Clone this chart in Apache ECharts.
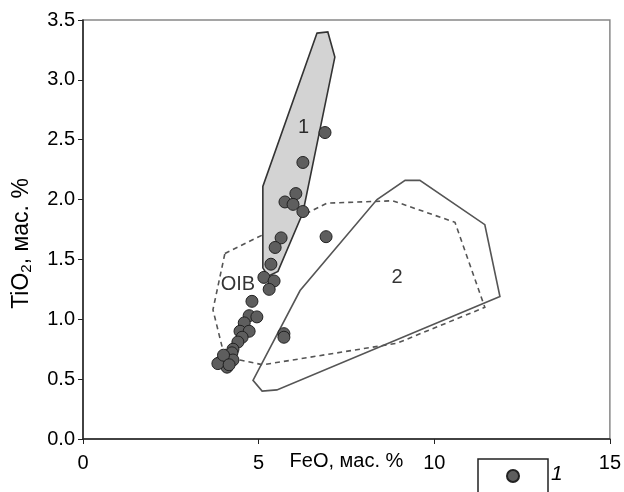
<!DOCTYPE html>
<html><head><meta charset="utf-8">
<script src="https://cdn.jsdelivr.net/npm/echarts@6/dist/echarts.min.js"></script>
<style>html,body{margin:0;padding:0;background:#fff}#c{width:624px;height:492px}</style>
</head><body><div id="c"></div>
<script>
// FeO (x), TiO2 (y) of samples (group 1)
const feo = [6.89,6.26,6.06,5.75,5.98,6.26,6.92,5.64,5.47,5.35,5.15,5.44,5.30,4.81,4.73,4.95,4.59,4.47,4.73,4.53,4.41,5.72,5.72,4.27,4.24,4.04,4.27,3.90,4.10,3.84,4.00,4.16];
const tio2 = [2.56,2.31,2.05,1.98,1.96,1.90,1.69,1.68,1.60,1.46,1.35,1.32,1.25,1.15,1.03,1.02,0.97,0.90,0.90,0.85,0.81,0.88,0.85,0.75,0.72,0.68,0.66,0.64,0.60,0.63,0.70,0.62];
// field 1 (grey)
const field1X = [6.66,6.97,7.17,6.26,5.55,5.27,5.12,5.12];
const field1Y = [3.39,3.40,3.19,1.89,1.40,1.36,1.43,2.11];
// field 2
const field2X = [9.17,9.59,11.44,11.87,5.52,5.10,4.84,6.18,8.37];
const field2Y = [2.16,2.16,1.79,1.19,0.41,0.40,0.49,1.24,2.00];
// OIB field (dashed)
const oibX = [4.04,6.95,8.82,10.59,11.44,8.94,5.12,4.47,3.96,3.70];
const oibY = [1.55,1.97,1.99,1.81,1.10,0.80,0.62,0.66,0.77,1.08];
// field labels
const fieldLabels = ['1','2','OIB'];
const fieldLabelX = [6.28,8.94,4.41];
const fieldLabelY = [2.60,1.35,1.29];
const xTicks = [0,5,10,15];
const seriesName = '1';

function zip(a,b){return a.map((v,i)=>[v,b[i]]);}
function polySeries(xs, ys, style, z){
  return {
    type:'custom', z:z, silent:true,
    data:[0],
    renderItem:function(params, api){
      const pts = xs.map((x,i)=>api.coord([x, ys[i]]));
      return {type:'polygon', shape:{points:pts}, style:style};
    }
  };
}
const chart = echarts.init(document.getElementById('c'));
chart.setOption({
  animation:false,
  backgroundColor:'#fff',
  grid:{left:83,right:14,top:20,bottom:53,show:true,borderColor:'#888',borderWidth:1.5,backgroundColor:'transparent'},
  xAxis:{type:'value',min:0,max:15,interval:5,
    axisLine:{show:true,onZero:false,lineStyle:{color:'#222',width:1.5}},
    axisTick:{show:true,length:5,lineStyle:{color:'#222'}},
    splitLine:{show:false},
    axisLabel:{fontFamily:'Liberation Sans, Arial',fontSize:20,color:'#000',margin:14,
      formatter:v=>xTicks.includes(v)?String(v):''},
    name:'FeO, мас. %',nameLocation:'middle',nameGap:12,nameMoveOverlap:false,
    nameTextStyle:{fontFamily:'Liberation Sans, Arial',fontSize:20,color:'#000',verticalAlign:'top'}
  },
  yAxis:{type:'value',min:0,max:3.5,interval:0.5,
    axisLine:{show:true,onZero:false,lineStyle:{color:'#222',width:1.5}},
    axisTick:{show:true,length:5,lineStyle:{color:'#222'}},
    splitLine:{show:false},
    axisLabel:{fontFamily:'Liberation Sans, Arial',fontSize:20,color:'#000',margin:8,formatter:v=>v.toFixed(1)},
    name:'{a|TiO}{s|2}{a|, мас. %}',nameLocation:'middle',nameGap:49,nameRotate:90,nameMoveOverlap:false,
    nameTextStyle:{fontFamily:'Liberation Sans, Arial',color:'#000',padding:[0,28,0,0],
      rich:{a:{fontFamily:'Liberation Sans, Arial',fontSize:23,color:'#000'},
            s:{fontFamily:'Liberation Sans, Arial',fontSize:15,color:'#000',padding:[9,0,0,0]}}}
  },
  legend:{show:true,left:478,top:459,orient:'horizontal',
    data:[{name:seriesName,icon:'circle'}],
    itemWidth:12,itemHeight:12,itemGap:0,
    formatter:()=>'',
    borderColor:'#222',borderWidth:1.5,padding:[10,28,30,28],
    textStyle:{fontSize:1}
  },
  graphic:[{type:'text',left:551,top:464,style:{text:'1',fontFamily:'Liberation Sans, Arial',fontStyle:'italic',fontSize:21,fill:'#000'}}],
  series:[
    polySeries(field2X, field2Y, {fill:'none',stroke:'#555',lineWidth:1.6}, 1),
    polySeries(oibX, oibY, {fill:'none',stroke:'#555',lineWidth:1.6,lineDash:[5,4]}, 2),
    polySeries(field1X, field1Y, {fill:'#d3d3d3',stroke:'#333',lineWidth:1.6}, 3),
    {type:'scatter',silent:true,z:4,symbolSize:0,data:zip(fieldLabelX,fieldLabelY).map((p,i)=>({value:p,label:{formatter:fieldLabels[i]}})),
      label:{show:true,position:'inside',fontFamily:'Liberation Sans, Arial',fontSize:20,color:'#000'}},
    {name:seriesName,type:'scatter',z:5,symbol:'circle',symbolSize:12,data:zip(feo,tio2),
      itemStyle:{color:'#5e5e5e',borderColor:'#222',borderWidth:1,opacity:1}}
  ]
});
</script></body></html>
